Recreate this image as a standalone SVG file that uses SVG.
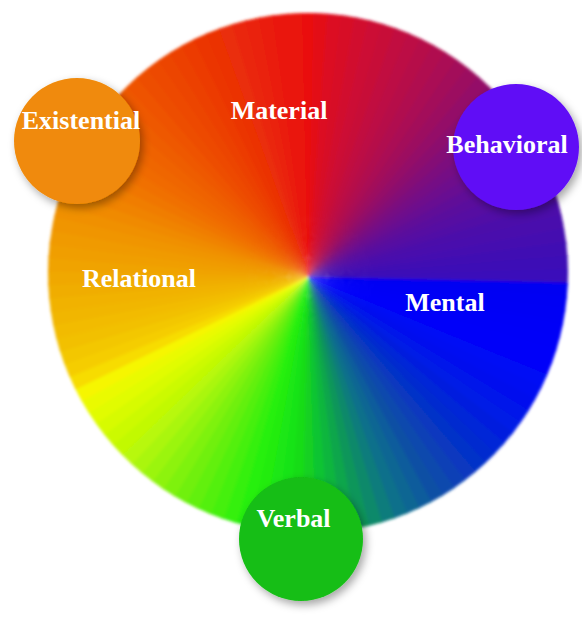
<svg xmlns="http://www.w3.org/2000/svg" xmlns:xlink="http://www.w3.org/1999/xlink" width="582" height="620" viewBox="0 0 582 620">
<style>
.lbl{font-family:"Liberation Serif","Times New Roman",serif;font-weight:bold;font-size:26px;fill:#ffffff;text-anchor:middle}
</style>
<defs>
<path id="w" d="M308 277 L298.57 -23 L317.43 -23 Z"/>
<clipPath id="wheelClip"><circle cx="308" cy="273" r="260"/></clipPath>
<filter id="soft" x="-5%" y="-5%" width="110%" height="110%"><feGaussianBlur stdDeviation="1.4"/></filter>
<filter id="shadow" x="-30%" y="-30%" width="170%" height="170%"><feDropShadow dx="3" dy="4" stdDeviation="4" flood-color="#000000" flood-opacity="0.35"/></filter>
</defs>
<rect width="582" height="620" fill="#ffffff"/>
<g id="wheel" filter="url(#soft)">
<g clip-path="url(#wheelClip)">
<use href="#w" transform="rotate(0 308 277)" fill="#EA0E0E"/>
<use href="#w" transform="rotate(3 308 277)" fill="#E30F18"/>
<use href="#w" transform="rotate(6 308 277)" fill="#DC1022"/>
<use href="#w" transform="rotate(9 308 277)" fill="#D71028"/>
<use href="#w" transform="rotate(12 308 277)" fill="#D1102E"/>
<use href="#w" transform="rotate(15 308 277)" fill="#CC1034"/>
<use href="#w" transform="rotate(18 308 277)" fill="#C71039"/>
<use href="#w" transform="rotate(21 308 277)" fill="#C1103F"/>
<use href="#w" transform="rotate(24 308 277)" fill="#BC1044"/>
<use href="#w" transform="rotate(27 308 277)" fill="#B6104A"/>
<use href="#w" transform="rotate(30 308 277)" fill="#B0104F"/>
<use href="#w" transform="rotate(33 308 277)" fill="#AA1054"/>
<use href="#w" transform="rotate(36 308 277)" fill="#A3105A"/>
<use href="#w" transform="rotate(39 308 277)" fill="#9C1061"/>
<use href="#w" transform="rotate(42 308 277)" fill="#941067"/>
<use href="#w" transform="rotate(45 308 277)" fill="#8C106E"/>
<use href="#w" transform="rotate(48 308 277)" fill="#841076"/>
<use href="#w" transform="rotate(51 308 277)" fill="#7C107E"/>
<use href="#w" transform="rotate(54 308 277)" fill="#751085"/>
<use href="#w" transform="rotate(57 308 277)" fill="#6E108C"/>
<use href="#w" transform="rotate(60 308 277)" fill="#671092"/>
<use href="#w" transform="rotate(63 308 277)" fill="#601098"/>
<use href="#w" transform="rotate(66 308 277)" fill="#5A109D"/>
<use href="#w" transform="rotate(69 308 277)" fill="#5610A2"/>
<use href="#w" transform="rotate(72 308 277)" fill="#5110A6"/>
<use href="#w" transform="rotate(75 308 277)" fill="#4C10AA"/>
<use href="#w" transform="rotate(78 308 277)" fill="#4810AD"/>
<use href="#w" transform="rotate(81 308 277)" fill="#4510B0"/>
<use href="#w" transform="rotate(84 308 277)" fill="#4110B3"/>
<use href="#w" transform="rotate(87 308 277)" fill="#3E10B6"/>
<use href="#w" transform="rotate(90 308 277)" fill="#3A10BA"/>
<use href="#w" transform="rotate(93 308 277)" fill="#0000F2"/>
<use href="#w" transform="rotate(96 308 277)" fill="#0000F4"/>
<use href="#w" transform="rotate(99 308 277)" fill="#0001F5"/>
<use href="#w" transform="rotate(102 308 277)" fill="#0002F7"/>
<use href="#w" transform="rotate(105 308 277)" fill="#0003F8"/>
<use href="#w" transform="rotate(108 308 277)" fill="#0003F9"/>
<use href="#w" transform="rotate(111 308 277)" fill="#0005F9"/>
<use href="#w" transform="rotate(114 308 277)" fill="#0009F5"/>
<use href="#w" transform="rotate(117 308 277)" fill="#000DF2"/>
<use href="#w" transform="rotate(120 308 277)" fill="#0011EE"/>
<use href="#w" transform="rotate(123 308 277)" fill="#0015EA"/>
<use href="#w" transform="rotate(126 308 277)" fill="#001AE6"/>
<use href="#w" transform="rotate(129 308 277)" fill="#021FDE"/>
<use href="#w" transform="rotate(132 308 277)" fill="#0325D7"/>
<use href="#w" transform="rotate(135 308 277)" fill="#052ACF"/>
<use href="#w" transform="rotate(138 308 277)" fill="#0630C8"/>
<use href="#w" transform="rotate(141 308 277)" fill="#0838BF"/>
<use href="#w" transform="rotate(144 308 277)" fill="#0940B6"/>
<use href="#w" transform="rotate(147 308 277)" fill="#0A48AD"/>
<use href="#w" transform="rotate(150 308 277)" fill="#0C50A4"/>
<use href="#w" transform="rotate(153 308 277)" fill="#0D5B9C"/>
<use href="#w" transform="rotate(156 308 277)" fill="#0E6693"/>
<use href="#w" transform="rotate(159 308 277)" fill="#10708B"/>
<use href="#w" transform="rotate(162 308 277)" fill="#107C7C"/>
<use href="#w" transform="rotate(165 308 277)" fill="#10896B"/>
<use href="#w" transform="rotate(168 308 277)" fill="#10965A"/>
<use href="#w" transform="rotate(171 308 277)" fill="#10A64C"/>
<use href="#w" transform="rotate(174 308 277)" fill="#10B63E"/>
<use href="#w" transform="rotate(177 308 277)" fill="#10C430"/>
<use href="#w" transform="rotate(180 308 277)" fill="#12D024"/>
<use href="#w" transform="rotate(183 308 277)" fill="#14DC18"/>
<use href="#w" transform="rotate(186 308 277)" fill="#18E313"/>
<use href="#w" transform="rotate(189 308 277)" fill="#1DE712"/>
<use href="#w" transform="rotate(192 308 277)" fill="#23EC11"/>
<use href="#w" transform="rotate(195 308 277)" fill="#28F010"/>
<use href="#w" transform="rotate(198 308 277)" fill="#36F010"/>
<use href="#w" transform="rotate(201 308 277)" fill="#45F010"/>
<use href="#w" transform="rotate(204 308 277)" fill="#53F010"/>
<use href="#w" transform="rotate(207 308 277)" fill="#62F010"/>
<use href="#w" transform="rotate(210 308 277)" fill="#70F010"/>
<use href="#w" transform="rotate(213 308 277)" fill="#7EF20E"/>
<use href="#w" transform="rotate(216 308 277)" fill="#8DF30D"/>
<use href="#w" transform="rotate(219 308 277)" fill="#9BF50B"/>
<use href="#w" transform="rotate(222 308 277)" fill="#AAF60A"/>
<use href="#w" transform="rotate(225 308 277)" fill="#B8F808"/>
<use href="#w" transform="rotate(228 308 277)" fill="#C2F906"/>
<use href="#w" transform="rotate(231 308 277)" fill="#CCFA04"/>
<use href="#w" transform="rotate(234 308 277)" fill="#D7FB02"/>
<use href="#w" transform="rotate(237 308 277)" fill="#E1FC01"/>
<use href="#w" transform="rotate(240 308 277)" fill="#EAFA00"/>
<use href="#w" transform="rotate(243 308 277)" fill="#F6F600"/>
<use href="#w" transform="rotate(246 308 277)" fill="#F7DC00"/>
<use href="#w" transform="rotate(249 308 277)" fill="#F5CD00"/>
<use href="#w" transform="rotate(252 308 277)" fill="#F3C700"/>
<use href="#w" transform="rotate(255 308 277)" fill="#F2C000"/>
<use href="#w" transform="rotate(258 308 277)" fill="#F2BB00"/>
<use href="#w" transform="rotate(261 308 277)" fill="#F1B600"/>
<use href="#w" transform="rotate(264 308 277)" fill="#F1B200"/>
<use href="#w" transform="rotate(267 308 277)" fill="#F0AD00"/>
<use href="#w" transform="rotate(270 308 277)" fill="#F0A800"/>
<use href="#w" transform="rotate(273 308 277)" fill="#F0A300"/>
<use href="#w" transform="rotate(276 308 277)" fill="#F09E00"/>
<use href="#w" transform="rotate(279 308 277)" fill="#F09A00"/>
<use href="#w" transform="rotate(282 308 277)" fill="#F09500"/>
<use href="#w" transform="rotate(285 308 277)" fill="#F09000"/>
<use href="#w" transform="rotate(288 308 277)" fill="#F08A00"/>
<use href="#w" transform="rotate(291 308 277)" fill="#F08300"/>
<use href="#w" transform="rotate(294 308 277)" fill="#F07D00"/>
<use href="#w" transform="rotate(297 308 277)" fill="#F07600"/>
<use href="#w" transform="rotate(300 308 277)" fill="#F07000"/>
<use href="#w" transform="rotate(303 308 277)" fill="#F06B00"/>
<use href="#w" transform="rotate(306 308 277)" fill="#EF6600"/>
<use href="#w" transform="rotate(309 308 277)" fill="#EF6200"/>
<use href="#w" transform="rotate(312 308 277)" fill="#EE5D00"/>
<use href="#w" transform="rotate(315 308 277)" fill="#EE5800"/>
<use href="#w" transform="rotate(318 308 277)" fill="#EE5301"/>
<use href="#w" transform="rotate(321 308 277)" fill="#ED4E02"/>
<use href="#w" transform="rotate(324 308 277)" fill="#ED4A02"/>
<use href="#w" transform="rotate(327 308 277)" fill="#EC4503"/>
<use href="#w" transform="rotate(330 308 277)" fill="#EC4004"/>
<use href="#w" transform="rotate(333 308 277)" fill="#EC3B05"/>
<use href="#w" transform="rotate(336 308 277)" fill="#EB3606"/>
<use href="#w" transform="rotate(339 308 277)" fill="#EB3206"/>
<use href="#w" transform="rotate(342 308 277)" fill="#EA2D07"/>
<use href="#w" transform="rotate(345 308 277)" fill="#EA2808"/>
<use href="#w" transform="rotate(348 308 277)" fill="#EA2309"/>
<use href="#w" transform="rotate(351 308 277)" fill="#EA1D09"/>
<use href="#w" transform="rotate(354 308 277)" fill="#EA180A"/>
<use href="#w" transform="rotate(357 308 277)" fill="#EA130C"/>
</g>
</g>
<g id="connectors"/>
<g id="node-material"><text class="lbl" x="279" y="119">Material</text></g>
<g id="node-relational"><text class="lbl" x="139" y="287">Relational</text></g>
<g id="node-mental"><text class="lbl" x="445" y="311">Mental</text></g>
<g id="node-existential">
<circle cx="77" cy="141" r="63" fill="#F08A08" filter="url(#shadow)"/>
<text class="lbl" x="81" y="129">Existential</text>
</g>
<g id="node-behavioral">
<circle cx="516" cy="147" r="63" fill="#6010F6" filter="url(#shadow)"/>
<text class="lbl" x="507" y="153">Behavioral</text>
</g>
<g id="node-verbal">
<circle cx="301" cy="539" r="62" fill="#14BE14" filter="url(#shadow)"/>
<text class="lbl" x="293.5" y="527">Verbal</text>
</g>
</svg>
